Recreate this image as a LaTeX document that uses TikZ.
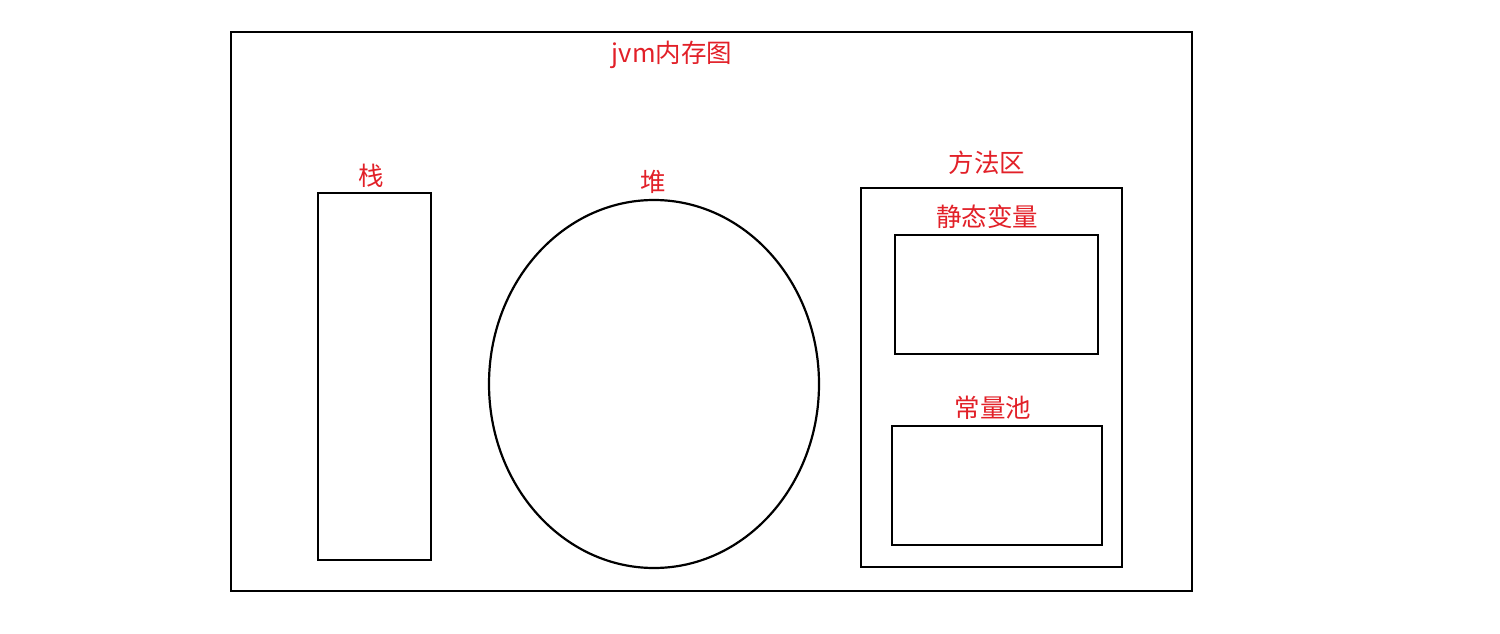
\documentclass[tikz,border=0pt]{standalone}
\usepackage{fontspec}
\setmainfont{Noto Sans CJK SC}
\begin{document}
\begin{tikzpicture}[x=1pt,y=-1pt,
  box/.style={draw=black,line width=2.2pt},
  lbl/.style={text=redlbl,font=\fontsize{25.5}{28}\selectfont,inner sep=0pt,anchor=center}]
\definecolor{redlbl}{RGB}{226,32,40}
\useasboundingbox[fill=white] (0,0) rectangle (1500,634);
\draw[box] (231,32) rectangle (1192,591);
\node[lbl] (title) at (672,55) {jvm内存图};
\draw[box] (318,193) rectangle (431,560);
\node[lbl] (stack) at (371,176) {栈};
\draw[box] (654,384) ellipse [x radius=165, y radius=184];
\node[lbl] (heap) at (653,182) {堆};
\draw[box] (861,188) rectangle (1122,567);
\node[lbl] (method) at (987,163) {方法区};
\draw[box] (895,235) rectangle (1098,354);
\node[lbl] (static) at (987,217) {静态变量};
\draw[box] (892,426) rectangle (1102,545);
\node[lbl] (pool) at (993,408) {常量池};
\end{tikzpicture}
\end{document}
